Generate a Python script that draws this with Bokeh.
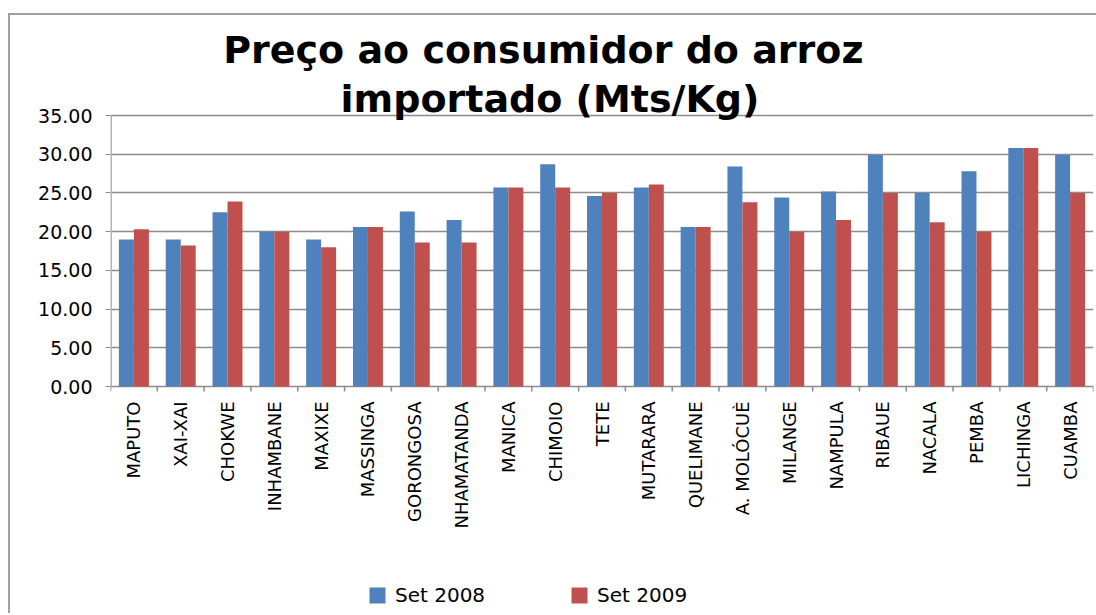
import math
from bokeh.plotting import figure
from bokeh.models import (ColumnDataSource, Range1d, LinearAxis, FixedTicker, Legend,
                          LegendItem, NumeralTickFormatter, Grid)
from bokeh.core.properties import value
from bokeh.transform import dodge
from bokeh.embed import file_html
from bokeh.resources import INLINE

# ---- data ----
cats = ["MAPUTO", "XAI-XAI", "CHOKWE", "INHAMBANE", "MAXIXE", "MASSINGA", "GORONGOSA",
        "NHAMATANDA", "MANICA", "CHIMOIO", "TETE", "MUTARARA", "QUELIMANE", "A. MOLÓCUÈ",
        "MILANGE", "NAMPULA", "RIBAUE", "NACALA", "PEMBA", "LICHINGA", "CUAMBA"]
set2008 = [19.0, 19.0, 22.5, 20.0, 19.0, 20.6, 22.6, 21.5, 25.7, 28.7, 24.6,
           25.7, 20.6, 28.4, 24.4, 25.2, 29.9, 25.0, 27.8, 30.8, 29.9]
set2009 = [20.3, 18.2, 23.9, 20.0, 18.0, 20.6, 18.6, 18.6, 25.7, 25.7, 25.0,
           26.1, 20.6, 23.8, 20.0, 21.5, 25.0, 21.2, 20.0, 30.8, 25.0]
series_names = ["Set 2008", "Set 2009"]
title_lines = ["Preço ao consumidor  do arroz", "importado (Mts/Kg)"]
y_ticks = [0, 5, 10, 15, 20, 25, 30, 35]

BLUE = "#4F81BD"
RED = "#C0504D"
GRID = "#8c8c8c"
AXIS = "#b4b4b4"
FONT = "DejaVu Sans"

n = len(cats)
src = ColumnDataSource(dict(x=list(range(n)), cat=cats, a=set2008, b=set2009))

# geometry (pixels)
PLOT_PX = 271          # height of the 0..35 value band
ABOVE_PX = 99          # room for the title above the 35 line
BELOW_PX = 227         # room for category labels and legend below the 0 line
FRAME_W = 983
FRAME_H = ABOVE_PX + PLOT_PX + BELOW_PX
ppu = PLOT_PX / y_ticks[-1]
y_top = y_ticks[-1] + ABOVE_PX / ppu
y_bot = y_ticks[0] - BELOW_PX / ppu

p = figure(frame_width=FRAME_W, frame_height=FRAME_H, output_backend="svg", toolbar_location=None,
           x_range=Range1d(-0.5, n - 0.5), y_range=Range1d(y_bot, y_top),
           x_axis_location=None, y_axis_location=None,
           min_border_left=100, min_border_right=3, min_border_top=1, min_border_bottom=0)
# drop the default (axis-less) grids that figure() creates
p.center = [r for r in p.center if not isinstance(r, Grid)]
p.outline_line_color = None
p.background_fill_color = "white"
p.border_fill_color = "white"
p.styles = {"margin-left": "8px", "margin-top": "13px",
            "border-left": "2px solid #a0a0a0", "border-top": "2px solid #a0a0a0"}

# y axis
yaxis = LinearAxis(ticker=FixedTicker(ticks=y_ticks), formatter=NumeralTickFormatter(format="0.00"))
yaxis.axis_line_color = None
yaxis.major_tick_line_color = GRID
yaxis.major_tick_out = 5
yaxis.major_tick_in = 0
yaxis.minor_tick_line_color = None
yaxis.major_label_text_font = FONT
yaxis.major_label_text_font_size = "19px"
yaxis.major_label_text_color = "black"
yaxis.major_label_standoff = 13
p.add_layout(yaxis, "left")

grid = Grid(dimension=1, ticker=yaxis.ticker, grid_line_color=GRID, grid_line_width=1.5)
p.add_layout(grid)

# visible part of the value axis line (0..35 only)
p.segment(x0=[p.x_range.start], y0=[y_ticks[0]], x1=[p.x_range.start], y1=[y_ticks[-1]],
          line_color=AXIS, line_width=3)

# category axis: boundary ticks and rotated labels
bx = [i - 0.5 for i in range(n + 1)]
p.segment(x0=bx, y0=[y_ticks[0]] * len(bx), x1=bx, y1=[y_ticks[0] - 5 / ppu] * len(bx),
          line_color=GRID, line_width=1.5)
p.text(x="x", y=y_ticks[0] - 15 / ppu, text="cat", source=src, angle=math.pi / 2,
       text_align="right", text_baseline="middle",
       text_font=value(FONT), text_font_size="18px", text_color="black")

bw = 0.32
r1 = p.vbar(x=dodge("x", -bw / 2), top="a", width=bw, source=src, fill_color=BLUE, line_color=None)
r2 = p.vbar(x=dodge("x", bw / 2), top="b", width=bw, source=src, fill_color=RED, line_color=None)

# legend inside the (extended) frame, below the category labels
legend = Legend(items=[LegendItem(label=series_names[0], renderers=[r1]),
                       LegendItem(label=series_names[1], renderers=[r2])],
                orientation="horizontal", location=(257, 6),
                glyph_width=20, glyph_height=20, label_standoff=8, spacing=84,
                label_text_font=FONT, label_text_font_size="20px", label_text_color="black",
                border_line_color=None, background_fill_alpha=0, padding=0, margin=0)
p.add_layout(legend)

# title, drawn as text inside the (extended) frame
mid = (n - 1) / 2
for txt, off in zip(title_lines, [66, 17]):
    p.text(x=[mid], y=[y_ticks[-1] + off / ppu], text=[txt], x_offset=-52,
           text_align="center", text_baseline="alphabetic",
           text_font=value("DejaVu Sans"), text_font_style="bold",
           text_font_size="38px", text_color="black")

open("out.html", "w").write(file_html(p, INLINE))
